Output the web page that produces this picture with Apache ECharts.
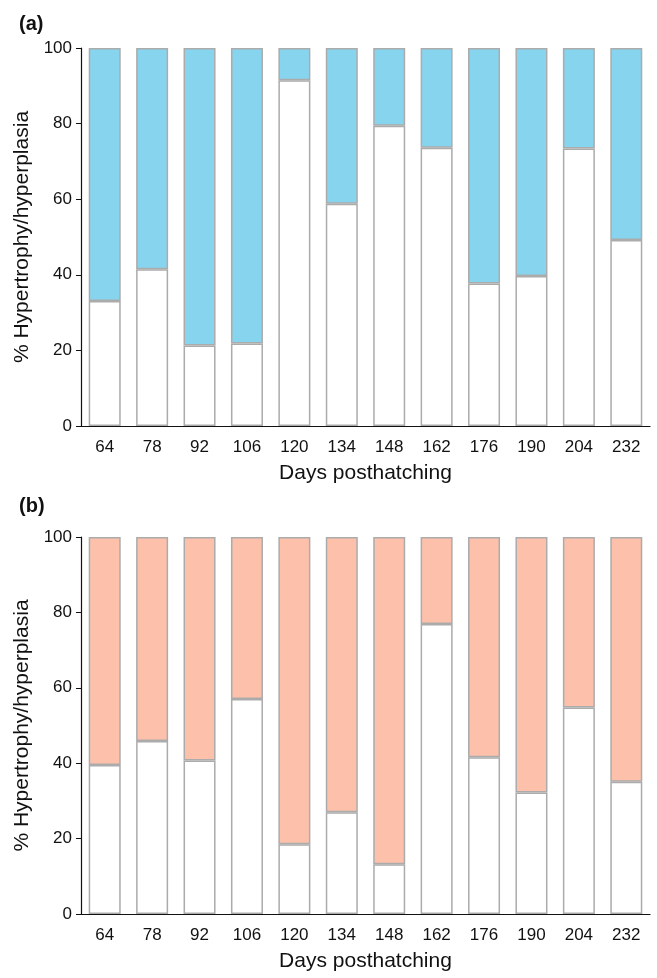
<!DOCTYPE html>
<html>
<head>
<meta charset="utf-8">
<script src="https://cdn.jsdelivr.net/npm/echarts@6/dist/echarts.min.js"></script>
<style>
  html, body { margin: 0; padding: 0; background: #fff; }
  #chart { width: 657px; height: 978px; }
</style>
</head>
<body>
<div id="chart"></div>
<script>
const days = ["64", "78", "92", "106", "120", "134", "148", "162", "176", "190", "204", "232"];
const yTicks = [0, 20, 40, 60, 80, 100];

// panel (a)
const whiteA = [33.1, 41.5, 21.3, 21.8, 91.5, 58.8, 79.4, 73.6, 37.7, 39.7, 73.4, 49.2];
const blueA = [66.9, 58.5, 78.7, 78.2, 8.5, 41.2, 20.6, 26.4, 62.3, 60.3, 26.6, 50.8];
// panel (b)
const whiteB = [39.5, 45.9, 40.7, 57.0, 18.5, 27.0, 13.2, 76.9, 41.6, 32.2, 54.8, 35.1];
const pinkB = [60.5, 54.1, 59.3, 43.0, 81.5, 73.0, 86.8, 23.1, 58.4, 67.8, 45.2, 64.9];

const font = "Liberation Sans";
const edge = "#ababab";

function xAxis(idx) {
  return {
    type: "category",
    gridIndex: idx,
    data: days,
    name: "Days posthatching",
    nameLocation: "middle",
    nameGap: 37,
    nameTextStyle: { fontFamily: font, fontSize: 21, color: "#111" },
    axisLine: { lineStyle: { color: "#111", width: 1.2 } },
    axisTick: { alignWithLabel: true, length: 5, lineStyle: { color: "#111" } },
    axisLabel: { fontFamily: font, fontSize: 17, color: "#111", margin: 13 },
  };
}

function yAxis(idx) {
  return {
    type: "value",
    gridIndex: idx,
    min: 0,
    max: 100,
    interval: 20,
    name: "% Hypertrophy/hyperplasia",
    nameLocation: "middle",
    nameGap: 42,
    nameTextStyle: { fontFamily: font, fontSize: 21, color: "#111" },
    splitLine: { show: false },
    axisLine: { show: true, lineStyle: { color: "#111", width: 1.2 } },
    axisTick: { show: true, length: 5, lineStyle: { color: "#111" } },
    axisLabel: {
      fontFamily: font, fontSize: 17, color: "#111", margin: 9,
      formatter: (v) => (yTicks.includes(v) ? String(v) : ""),
    },
  };
}

function bars(idx, data, color, stack) {
  return {
    type: "bar",
    xAxisIndex: idx,
    yAxisIndex: idx,
    stack: stack,
    barWidth: 32,
    data: data,
    itemStyle: { color: color, borderColor: edge, borderWidth: 1.5 },
    emphasis: { disabled: true },
    animation: false,
  };
}

const chart = echarts.init(document.getElementById("chart"));
chart.setOption({
  backgroundColor: "#fff",
  title: [
    { text: "(a)", left: 14, top: 9, textStyle: { fontFamily: font, fontSize: 20, fontWeight: "bold", color: "#111" } },
    { text: "(b)", left: 14, top: 491, textStyle: { fontFamily: font, fontSize: 20, fontWeight: "bold", color: "#111" } },
  ],
  grid: [
    { left: 81, right: 7, top: 48, height: 378 },
    { left: 81, right: 7, top: 537, height: 377 },
  ],
  xAxis: [xAxis(0), xAxis(1)],
  yAxis: [yAxis(0), yAxis(1)],
  series: [
    bars(0, whiteA, "#ffffff", "a"),
    bars(0, blueA, "#87d4ef", "a"),
    bars(1, whiteB, "#ffffff", "b"),
    bars(1, pinkB, "#fdc1ab", "b"),
  ],
});
</script>
</body>
</html>
